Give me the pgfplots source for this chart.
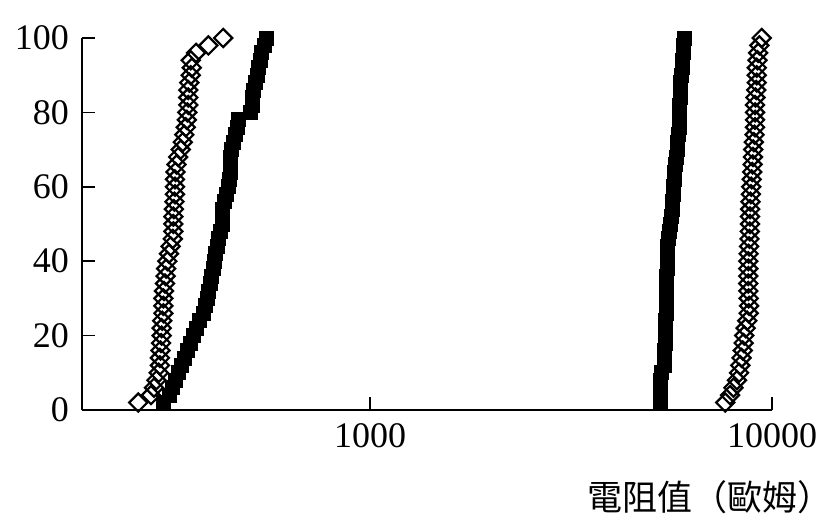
\documentclass[border=0pt]{standalone}
\usepackage{fontspec}
\setmainfont{Liberation Serif}
\newfontfamily\cjk{Noto Sans CJK TC}
\usepackage{pgfplots}
\pgfplotsset{compat=1.18}
\begin{document}
\begin{tikzpicture}
\path[use as bounding box] (-41pt,-59pt) rectangle (376.5pt,205pt);
\begin{axis}[
  at={(0,0)}, anchor=south west,
  scale only axis, width=345pt, height=186pt,
  xmode=log, xmin=192, xmax=10000, ymin=0, ymax=100,
  axis x line*=bottom, axis y line*=left,
  axis line style={line width=1pt, black},
  xtick={1000,10000}, xticklabels={1000,10000},
  xminorticks=false, minor x tick num=0,
  ytick={0,20,40,60,80,100},
  tick align=inside, major tick length=6.5pt,
  tick style={line width=0.8pt, black},
  ticklabel style={font=\fontsize{18}{18}\selectfont},
  /pgf/number format/assume math mode=true,
  xticklabel style={yshift=-3pt},
  yticklabel style={xshift=-3pt},
  clip=false,
]
% left group, filled squares
\addplot[only marks, mark=square*, mark size=3.5pt, black] table {
x y
306 2
316 4
322 6
328 8
333 10
339 12
345 14
351 16
357 18
363 20
370 22
377 24
385 26
389 28
393 30
396 32
400 34
404 36
407 38
410 40
413 42
417 44
420 46
424 48
428 50
428 52
430 54
434 56
438 58
443 60
447 62
448 64
448 66
450 68
452 70
456 72
462 74
467 76
470 78
505 80
509 82
511 84
513 86
518 88
523 90
527 92
532 94
538 96
545 98
553 100
};
% right group, filled squares
\addplot[only marks, mark=square*, mark size=3.5pt, black] table {
x y
5264 2
5270 4
5285 6
5290 8
5300 10
5390 12
5400 14
5410 16
5417 18
5425 20
5435 22
5440 24
5449 26
5450 28
5458 30
5465 32
5470 34
5475 36
5480 38
5485 40
5489 42
5495 44
5530 46
5565 48
5600 50
5629 52
5645 54
5660 56
5672 58
5681 60
5705 62
5730 64
5755 66
5780 68
5805 70
5830 72
5850 74
5870 76
5881 78
5888 80
5893 82
5900 84
5905 86
5925 88
5950 90
5970 92
5990 94
6005 96
6020 98
6041 100
};
% left group, open diamonds
\addplot[only marks, mark=square, mark size=3.2pt, black,
  mark options={rotate=45, fill=white, line width=1.1pt}] table {
x y
265 2
285 4
290 6
294 8
298 10
300 12
300 14
301 16
302 18
303 20
303 22
304 24
306 26
306 28
306 30
307 32
309 34
310 36
311 38
313 40
316 42
319 44
323 46
324 48
324 50
324 52
325 54
326 56
327 58
327 60
327 62
328 64
330 66
333 68
338 70
342 72
345 74
348 76
350 78
351 80
353 82
353 84
353 86
355 88
358 90
360 92
358 94
369 96
396 98
431 100
};
% right group, open diamonds
\addplot[only marks, mark=square, mark size=3.2pt, black,
  mark options={rotate=45, fill=white, line width=1.1pt}] table {
x y
7650 2
7864 4
8020 6
8180 8
8280 10
8340 12
8400 14
8460 16
8500 18
8530 20
8600 22
8680 24
8750 26
8770 28
8750 30
8730 32
8730 34
8730 36
8730 38
8730 40
8745 42
8770 44
8790 46
8805 48
8817 50
8817 52
8825 54
8840 56
8860 58
8880 60
8903 62
8930 64
8950 66
8965 68
8980 70
9010 72
9050 74
9073 76
9073 78
9073 80
9073 82
9095 84
9135 86
9162 88
9162 90
9165 92
9200 94
9240 96
9300 98
9428 100
};
\end{axis}
\node[font=\cjk\fontsize{17.5}{17.5}\selectfont] at (314pt,-43.5pt) {電阻值（歐姆）};
\end{tikzpicture}
\end{document}
